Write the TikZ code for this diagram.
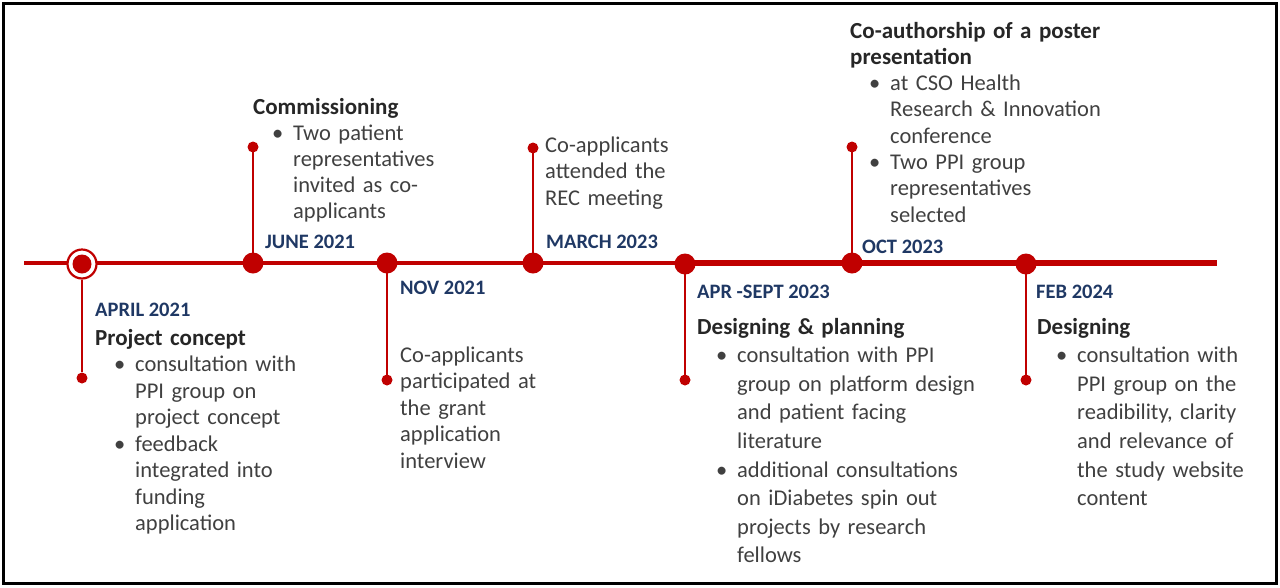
\documentclass[tikz,border=0pt]{standalone}
\usepackage{fontspec}
\setmainfont{Carlito}
\usetikzlibrary{backgrounds}
\definecolor{tlred}{HTML}{C00000}
\definecolor{tlnavy}{HTML}{1F3864}
\definecolor{tlhead}{HTML}{262626}
\definecolor{tlbody}{HTML}{404040}
\newcommand{\bpt}{\hspace*{19pt}\makebox[21pt][l]{\textbullet}}
\newcommand{\cnt}{\hspace*{40pt}}
\newcommand{\hd}[1]{{\fontsize{23}{26}\selectfont\bfseries\color{tlhead}#1}}
\tikzset{
  bigdot/.style={circle, fill=tlred, minimum size=21pt, inner sep=0pt},
  enddot/.style={circle, fill=tlred, minimum size=11pt, inner sep=0pt},
  ringdot/.style={circle, draw=tlred, line width=2.2pt, fill=white, minimum size=29pt, inner sep=0pt},
  stem/.style={draw=tlred, line width=2pt},
  datelbl/.style={anchor=base west, inner sep=0pt, text=tlnavy, font=\fontsize{20.5}{24}\selectfont\bfseries},
  body/.style={anchor=base west, inner sep=0pt, text=tlbody, text width=320pt, align=left, font=\fontsize{22.5}{26.5}\selectfont},
  bodywide/.style={body, font=\fontsize{22.5}{28.6}\selectfont},
}
\begin{document}
\begin{tikzpicture}[x=1pt,y=-1pt]
\useasboundingbox (0,0) rectangle (1280,587);
\draw[line width=2.5pt] (3.5,3.5) rectangle (1276.5,583.5);

% ring and dots
\node[ringdot] (r1) at (82,264) {};
\node[bigdot, minimum size=19pt] (d1) at (82,264) {};
\node[bigdot] (d2) at (253,263) {};
\node[bigdot] (d3) at (387,263) {};
\node[bigdot] (d4) at (533,263) {};
\node[bigdot] (d5) at (685,264) {};
\node[bigdot] (d6) at (852,263) {};
\node[bigdot] (d7) at (1026,264) {};

% stem end dots
\node[enddot] (e1) at (82,378) {};
\node[enddot] (e2) at (253,147) {};
\node[enddot] (e3) at (387,380) {};
\node[enddot] (e4) at (533,148) {};
\node[enddot] (e5) at (685,380) {};
\node[enddot] (e6) at (852,147) {};
\node[enddot] (e7) at (1026,380) {};

\coordinate (tl0) at (24,263);
\coordinate (tlm) at (685,263);
\coordinate (tl1) at (1217,263);

\begin{pgfonlayer}{background}
\draw[tlred, line width=3.5pt] (tl0) -- (tlm);
\draw[tlred, line width=6.5pt] (tlm) -- (tl1);
\draw[stem] (r1) -- (e1);
\draw[stem] (d2.center) -- (e2.center);
\draw[stem] (d3.center) -- (e3.center);
\draw[stem] (d4.center) -- (e4.center);
\draw[stem] (d5.center) -- (e5.center);
\draw[stem] (d6.center) -- (e6.center);
\draw[stem] (d7.center) -- (e7.center);
\end{pgfonlayer}

% dates
\node[datelbl] (t1) at (95,316) {APRIL 2021};
\node[datelbl] (t2) at (265,248) {JUNE 2021};
\node[datelbl] (t3) at (400,294) {NOV 2021};
\node[datelbl] (t4) at (546,248) {MARCH 2023};
\node[datelbl] (t5) at (697,298) {APR -SEPT 2023};
\node[datelbl] (t6) at (862,253) {OCT 2023};
\node[datelbl] (t7) at (1036,298) {FEB 2024};

% texts
\node[body] (a1) at (95,345) {\hd{Project concept}\\
\bpt consultation with\\
\cnt PPI group on\\
\cnt project concept\\
\bpt feedback\\
\cnt integrated into\\
\cnt funding\\
\cnt application};

\node[body, font=\fontsize{22.5}{26.2}\selectfont] (a2) at (253,114) {\hd{Commissioning}\\
\bpt Two patient\\
\cnt representatives\\
\cnt invited as co-\\
\cnt applicants};

\node[body] (a3) at (400,362) {Co-applicants\\
participated at\\
the grant\\
application\\
interview};

\node[body] (a4) at (545,152) {Co-applicants\\
attended the\\
REC meeting};

\node[bodywide] (a5) at (697,334) {\hd{Designing \& planning}\\
\bpt consultation with PPI\\
\cnt group on platform design\\
\cnt and patient facing\\
\cnt literature\\
\bpt additional consultations\\
\cnt on iDiabetes spin out\\
\cnt projects by research\\
\cnt fellows};

\node[body, font=\fontsize{22.5}{26.3}\selectfont] (a6) at (850,38) {\hd{Co-authorship of a poster}\\
\hd{presentation}\\
\bpt at CSO Health\\
\cnt Research \& Innovation\\
\cnt conference\\
\bpt Two PPI group\\
\cnt representatives\\
\cnt selected};

\node[bodywide] (a7) at (1037,334) {\hd{Designing}\\
\bpt consultation with\\
\cnt PPI group on the\\
\cnt readibility, clarity\\
\cnt and relevance of\\
\cnt the study website\\
\cnt content};
\end{tikzpicture}
\end{document}
